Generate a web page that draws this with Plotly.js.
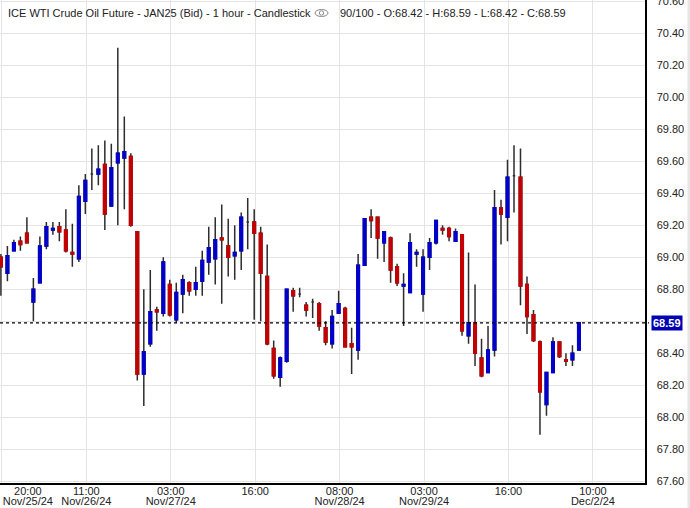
<!DOCTYPE html>
<html><head><meta charset="utf-8">
<script src="https://cdn.plot.ly/plotly-3.0.1.min.js"></script>
<style>html,body{margin:0;padding:0;background:#fff}#chart{width:690px;height:508px}</style>
</head><body><div id="chart"></div>
<script>
// ---- data ----
const openP  = [69.00,68.90,69.04,69.10,69.15,68.72,68.84,69.07,69.17,69.19,
                69.17,69.03,68.99,69.35,69.52,69.52,69.58,69.32,69.59,69.62,
                69.63,69.16,68.27,68.46,68.67,68.65,68.83,68.61,68.77,68.84,
                68.80,68.85,68.97,68.99,69.12,69.07,69.01,69.04,69.22,69.22,
                69.15,68.88,68.43,68.25,68.35,68.79,68.77,68.70,68.72,68.71,
                68.56,68.46,68.65,68.68,68.46,68.42,68.95,69.25,69.25,69.09,
                69.12,68.94,68.82,68.78,69.02,68.77,69.00,69.09,69.18,69.18,
                69.10,69.14,68.51,68.59,68.37,68.28,68.42,69.31,69.25,69.51,
                69.50,68.83,68.64,68.47,68.08,68.28,68.47,68.36,68.36,68.42];
const highP  = [69.02,69.07,69.11,69.13,69.25,68.87,69.13,69.22,69.22,69.22,
                69.30,69.21,69.45,69.52,69.68,69.70,69.73,69.71,70.31,69.88,
                69.65,69.16,68.80,68.92,68.69,69.00,68.86,68.84,68.89,68.85,
                68.94,69.04,69.19,69.25,69.33,69.24,69.20,69.28,69.37,69.30,
                69.19,69.08,68.48,68.38,68.80,68.81,68.81,68.72,68.74,68.72,
                68.60,68.67,68.79,68.69,68.56,69.02,69.24,69.30,69.25,69.16,
                69.13,68.96,68.90,69.15,69.05,69.05,69.12,69.23,69.20,69.19,
                69.18,69.14,69.03,68.83,68.49,68.57,69.42,69.36,69.61,69.70,
                69.68,68.88,68.67,68.48,68.28,68.50,68.47,68.40,68.45,68.59];
const lowP   = [68.76,68.85,69.04,69.04,69.09,68.60,68.84,69.05,69.14,69.10,
                69.03,68.94,68.97,69.27,69.42,69.45,69.17,69.32,69.20,69.30,
                69.19,68.23,68.07,68.44,68.54,68.63,68.63,68.59,68.65,68.76,
                68.76,68.76,68.89,68.83,68.71,68.88,68.86,68.92,69.05,68.61,
                68.60,68.45,68.24,68.19,68.34,68.66,68.75,68.63,68.62,68.54,
                68.45,68.43,68.65,68.44,68.27,68.36,68.95,69.12,68.99,68.97,
                68.84,68.82,68.57,68.78,68.94,68.66,68.92,69.08,69.14,69.10,
                69.10,68.51,68.46,68.32,68.25,68.28,68.38,69.08,69.10,69.28,
                68.70,68.52,68.47,67.89,68.01,68.28,68.37,68.32,68.32,68.42];
const closeP = [68.94,69.01,69.09,69.08,69.09,68.80,69.07,69.19,69.18,69.16,
                69.04,69.02,69.38,69.48,69.52,69.55,69.27,69.56,69.65,69.66,
                69.20,68.27,68.41,68.66,68.66,68.97,68.64,68.78,68.86,68.79,
                68.84,68.98,69.06,69.11,69.11,69.00,69.03,69.25,69.22,69.15,
                68.90,68.46,68.26,68.37,68.80,68.76,68.77,68.67,68.72,68.57,
                68.47,68.63,68.71,68.44,68.44,68.95,69.24,69.23,69.12,69.16,
                68.92,68.84,68.83,69.09,69.03,69.00,69.09,69.23,69.17,69.13,
                69.16,68.54,68.59,68.40,68.26,68.42,69.31,69.27,69.50,69.51,
                68.82,68.63,68.48,68.16,68.28,68.47,68.38,68.35,68.40,68.59];
const gridIdx   = [0, 13, 26, 39, 52, 65, 78, 91];
const tickTimes = ['20:00','11:00','03:00','16:00','08:00','03:00','16:00','10:00'];
const tickDates = ['Nov/25/24','Nov/26/24','Nov/27/24','','Nov/28/24','Nov/29/24','','Dec/2/24'];
const priceTicks = [67.6,67.8,68.0,68.2,68.4,68.6,68.8,69.0,69.2,69.4,69.6,69.8,70.0,70.2,70.4,70.6];
const chartTitle = 'ICE WTI Crude Oil Future - JAN25 (Bid) - 1 hour - Candlestick';
const shownBars = 90, totalBars = 100;

// ---- styling ----
const FONT = 'Liberation Sans, Arial, sans-serif';
const TXT = '#222222';
const BLUE = '#0000cc', RED = '#c40000', WICK = '#2d2d2d';
const GRID = '#e4e4e4';
const W = 645, H = 483; // plot area px
const GRID_OFF = 0.15, FIRST_SHIFT = 4.0;

const idx = openP.map((_, i) => i);
const isDoji = openP.map((o, i) => o === closeP[i]);
const bodyOpen  = openP.map((o, i) => isDoji[i] ? null : o);
const bodyClose = closeP.map((c, i) => isDoji[i] ? null : c);
const bodyHigh  = openP.map((o, i) => isDoji[i] ? null : Math.max(o, closeP[i]));
const bodyLow   = openP.map((o, i) => isDoji[i] ? null : Math.min(o, closeP[i]));

const n = closeP.length;
const lastO = openP[n-1], lastH = highP[n-1], lastL = lowP[n-1], lastC = closeP[n-1];

const gridPos  = gridIdx.map(g => g + GRID_OFF);
const labelPos = gridIdx.map((g, k) => g + GRID_OFF + (k === 0 ? FIRST_SHIFT : 0));
const xr = [-0.14, 99.17];
// the current-price badge covers the axis label next to it
const priceTickText = priceTicks.map(v => Math.abs(v - lastC) < 0.05 ? '' : v.toFixed(2));

const wickTrace = {
  type: 'candlestick', x: idx, open: openP, high: highP, low: lowP, close: closeP,
  increasing: {line: {color: WICK, width: 1.5}, fillcolor: WICK},
  decreasing: {line: {color: WICK, width: 1.5}, fillcolor: WICK},
  whiskerwidth: 0, hoverinfo: 'skip', showlegend: false
};
const bodyTrace = {
  type: 'candlestick', x: idx, open: bodyOpen, high: bodyHigh, low: bodyLow, close: bodyClose,
  increasing: {line: {color: BLUE, width: 1.5}, fillcolor: BLUE},
  decreasing: {line: {color: RED, width: 1.5}, fillcolor: RED},
  whiskerwidth: 0, hoverinfo: 'skip', showlegend: false
};
const d2 = {type: 'scatter', x: [], y: [], xaxis: 'x2', yaxis: 'y', showlegend: false, hoverinfo: 'skip'};
const d3 = {type: 'scatter', x: [], y: [], xaxis: 'x3', yaxis: 'y', showlegend: false, hoverinfo: 'skip'};

const tickFont = {family: FONT, size: 11, color: TXT};
const yTop = (H - 13) / H;

const layout = {
  width: 690, height: 508,
  margin: {l: 0, r: 690 - W, t: 0, b: 508 - H, pad: 0},
  paper_bgcolor: '#ffffff', plot_bgcolor: '#ffffff',
  showlegend: false,
  boxgap: 0.45,
  title: {text: chartTitle, font: {family: FONT, size: 11, color: TXT},
          x: 8/690, xanchor: 'left', xref: 'container',
          y: 1 - 13/508, yanchor: 'middle', yref: 'container', pad: {t:0,b:0,l:0,r:0}},
  xaxis: {range: xr, tickmode: 'array', tickvals: gridPos, showticklabels: false, ticks: '',
          showgrid: true, gridcolor: GRID, gridwidth: 1, zeroline: false,
          showline: true, linecolor: '#000', linewidth: 1.5,
          rangeslider: {visible: false}, fixedrange: true},
  xaxis2: {overlaying: 'x', anchor: 'y', side: 'bottom', range: xr, tickmode: 'array',
           tickvals: labelPos, ticktext: tickTimes, ticks: '', showgrid: false, zeroline: false,
           showline: false, tickfont: tickFont, ticklabelstandoff: 0, fixedrange: true},
  xaxis3: {overlaying: 'x', anchor: 'y', side: 'bottom', range: xr, tickmode: 'array',
           tickvals: labelPos, ticktext: tickDates, ticks: '', showgrid: false, zeroline: false,
           showline: false, tickfont: tickFont, ticklabelstandoff: 10, fixedrange: true},
  yaxis: {side: 'right', range: [67.589, 70.608], tickmode: 'array',
          tickvals: priceTicks, ticktext: priceTickText,
          showgrid: true, gridcolor: GRID, gridwidth: 1, zeroline: false,
          showline: true, linecolor: '#000', linewidth: 1.5, ticks: '',
          ticklabelstandoff: 8, ticklabeloverflow: 'allow', tickfont: tickFont, fixedrange: true},
  shapes: [
    {type: 'line', xref: 'paper', x0: 0, x1: 1 + 4/W, yref: 'y', y0: lastC, y1: lastC,
     line: {color: '#000', width: 1.3, dash: '3px,3px'}},
    {type: 'circle', xref: 'paper', yref: 'paper', xsizemode: 'pixel', ysizemode: 'pixel',
     xanchor: 321.5/W, yanchor: yTop, x0: -6.5, x1: 6.5, y0: -3.5, y1: 3.5,
     line: {color: '#8a8a8a', width: 1}},
    {type: 'circle', xref: 'paper', yref: 'paper', xsizemode: 'pixel', ysizemode: 'pixel',
     xanchor: 321.5/W, yanchor: yTop, x0: -2.2, x1: 2.2, y0: -2.2, y1: 2.2,
     line: {color: '#8a8a8a', width: 1}},
    {type: 'rect', xref: 'paper', yref: 'paper', x0: 687.5/W, x1: 692/W, y0: -(508-H)/H, y1: 1.05,
     fillcolor: '#e6e6e6', line: {width: 0}, layer: 'below'}
  ],
  annotations: [
    {xref: 'paper', yref: 'paper', x: 338/W, y: yTop, xanchor: 'left', yanchor: 'middle',
     showarrow: false, font: {family: FONT, size: 11, color: TXT},
     text: `${shownBars}/${totalBars} - O:${lastO.toFixed(2)} - H:${lastH.toFixed(2)} - L:${lastL.toFixed(2)} - C:${lastC.toFixed(2)}`},
    {xref: 'paper', yref: 'y', x: 1, y: lastC, xanchor: 'left', yanchor: 'middle', xshift: 6,
     showarrow: false, bgcolor: '#0000b4', borderpad: 1,
     font: {family: FONT, size: 11, color: '#ffffff'}, text: `<b>${lastC.toFixed(2)}</b>`}
  ]
};

Plotly.newPlot('chart', [wickTrace, bodyTrace, d2, d3], layout, {staticPlot: true, displayModeBar: false});
</script></body></html>
